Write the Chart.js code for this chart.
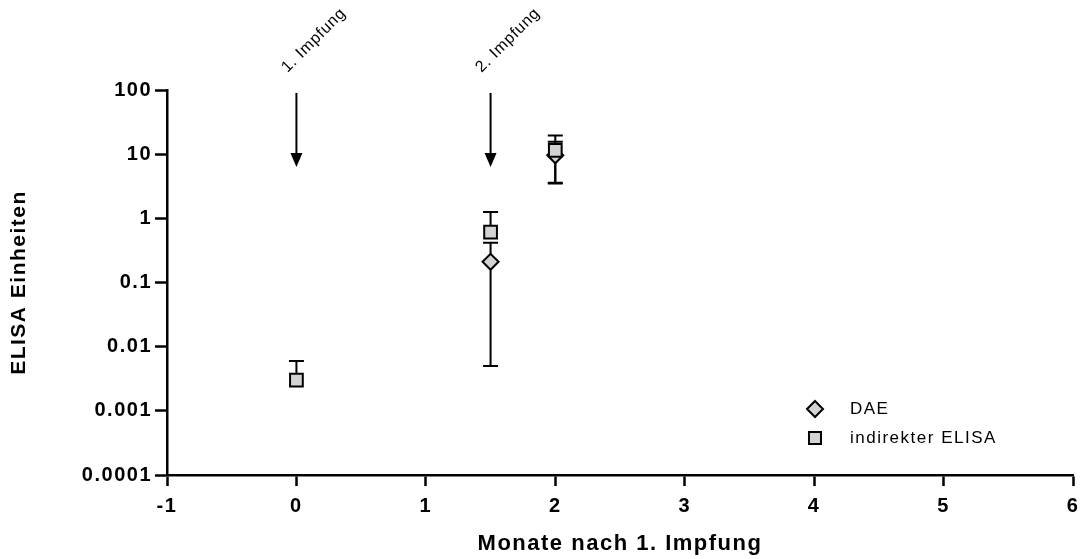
<!DOCTYPE html>
<html><head><meta charset="utf-8">
<script src="https://cdn.jsdelivr.net/npm/chart.js@4.4.0/dist/chart.umd.min.js"></script>
<style>html,body{margin:0;padding:0;background:#fff;overflow:hidden;} #wrap{width:1084px;height:559px;position:relative;}</style>
</head><body><div id="wrap"><canvas id="c" width="1084" height="559"></canvas></div>
<script>
// ---- data ----
const months = [0, 1.5, 2];
const daeMean = [null, 0.21, 9.6];
const daeSd = [null, 0.205, 6.0];
const elisaMean = [0.003, 0.61, 11.5];
const elisaSd = [0.003, 0.65, 8.0];
const seriesNames = ['DAE', 'indirekter ELISA'];
const yTickValues = [0.0001, 0.001, 0.01, 0.1, 1, 10, 100];
const yTickLabels = ['0.0001', '0.001', '0.01', '0.1', '1', '10', '100'];
const xTickValues = [-1, 0, 1, 2, 3, 4, 5, 6];
const vaccinationMonths = [0, 1.5];
const vaccinationLabels = ['1. Impfung', '2. Impfung'];
const arrowFrom = 90, arrowTo = 6.3;

const FONT = '"Liberation Sans", Arial, sans-serif';
const GRAY = '#d3d3d3';

function toPoints(means) {
  return months.map((m, i) => ({ x: m, y: means[i] }));
}

const spacingPlugin = {
  id: 'spacing',
  beforeUpdate(chart) { chart.ctx.letterSpacing = '1.5px'; },
  beforeDraw(chart) { chart.ctx.letterSpacing = '1.5px'; }
};

const errorBarPlugin = {
  id: 'errorBars',
  beforeDatasetsDraw(chart) {
    const ctx = chart.ctx;
    const xs = chart.scales.x, ys = chart.scales.y;
    const sets = [[daeMean, daeSd], [elisaMean, elisaSd]];
    ctx.save();
    ctx.strokeStyle = '#000';
    ctx.lineWidth = 2;
    sets.forEach(([mean, sd]) => {
      months.forEach((m, i) => {
        if (mean[i] == null) return;
        const x = xs.getPixelForValue(m);
        const y0 = ys.getPixelForValue(mean[i]);
        const ends = [mean[i] + sd[i]];
        if (mean[i] - sd[i] > 0) ends.push(mean[i] - sd[i]);
        ends.forEach(v => {
          const y = ys.getPixelForValue(v);
          ctx.beginPath();
          ctx.moveTo(x, y0); ctx.lineTo(x, y);
          ctx.moveTo(x - 7.5, y); ctx.lineTo(x + 7.5, y);
          ctx.stroke();
        });
      });
    });
    ctx.restore();
  }
};

function drawMarker(ctx, style, x, y, r) {
  ctx.beginPath();
  if (style === 'rectRot') {
    ctx.moveTo(x, y - r); ctx.lineTo(x + r, y); ctx.lineTo(x, y + r); ctx.lineTo(x - r, y); ctx.closePath();
  } else {
    const s = Math.SQRT1_2 * r;
    ctx.rect(x - s, y - s, 2 * s, 2 * s);
  }
  ctx.fill(); ctx.stroke();
}

const annotPlugin = {
  id: 'annot',
  afterDraw(chart) {
    const ctx = chart.ctx;
    const xs = chart.scales.x, ys = chart.scales.y;
    ctx.save();
    ctx.fillStyle = '#000'; ctx.strokeStyle = '#000'; ctx.lineWidth = 2;
    vaccinationMonths.forEach((m, i) => {
      const x = xs.getPixelForValue(m);
      const yA = ys.getPixelForValue(arrowFrom);
      const yB = ys.getPixelForValue(arrowTo);
      ctx.beginPath(); ctx.moveTo(x, yA); ctx.lineTo(x, yB - 12); ctx.stroke();
      ctx.beginPath(); ctx.moveTo(x - 6, yB - 14); ctx.lineTo(x + 6, yB - 14); ctx.lineTo(x, yB); ctx.closePath(); ctx.fill();
      ctx.save();
      ctx.translate(x - 9, chart.chartArea.top - 17);
      ctx.rotate(-Math.PI / 4);
      ctx.font = '16px ' + FONT;
      ctx.letterSpacing = '0.8px';
      ctx.textAlign = 'left'; ctx.textBaseline = 'alphabetic';
      ctx.fillText(vaccinationLabels[i], 0, 0);
      ctx.restore();
    });
    // legend
    const order = [0, 1];
    order.forEach((di, row) => {
      const ds = chart.data.datasets[di];
      const y = 409 + row * 29;
      ctx.fillStyle = ds.pointBackgroundColor;
      ctx.strokeStyle = ds.pointBorderColor;
      ctx.lineWidth = 2;
      drawMarker(ctx, ds.pointStyle, 815, y, ds.pointStyle === 'rectRot' ? 8 : 8.5);
      ctx.fillStyle = '#000';
      ctx.font = '17px ' + FONT;
      ctx.letterSpacing = '1.5px';
      ctx.textAlign = 'left'; ctx.textBaseline = 'middle';
      ctx.fillText(ds.label, 850, y);
    });
    ctx.restore();
  }
};

new Chart(document.getElementById('c'), {
  type: 'scatter',
  data: {
    datasets: [
      { label: seriesNames[0], data: toPoints(daeMean), pointStyle: 'rectRot', pointRadius: 8,
        pointHoverRadius: 8, pointBackgroundColor: GRAY, pointBorderColor: '#000', pointBorderWidth: 2, order: 1 },
      { label: seriesNames[1], data: toPoints(elisaMean), pointStyle: 'rect', pointRadius: 9,
        pointHoverRadius: 9, pointBackgroundColor: GRAY, pointBorderColor: '#000', pointBorderWidth: 2, order: 0 }
    ]
  },
  options: {
    responsive: false,
    animation: false,
    devicePixelRatio: 1,
    layout: { padding: { left: 0, right: 11, top: 90, bottom: 0 } },
    plugins: { legend: { display: false }, tooltip: { enabled: false } },
    scales: {
      x: {
        type: 'linear', min: -1, max: 6,
        afterBuildTicks(scale) { scale.ticks = xTickValues.map(v => ({ value: v })); },
        afterFit(scale) { scale.height = 84; scale.paddingRight = 0; scale.paddingLeft = 0; },
        grid: { drawOnChartArea: false, drawTicks: true, tickLength: 11, tickWidth: 2.5, tickColor: '#000' },
        border: { display: true, width: 2.5, color: '#000' },
        ticks: { color: '#000', font: { family: FONT, size: 20, weight: 'bold' }, padding: 8, maxRotation: 0,
                 callback: v => String(v) },
        title: { display: true, text: 'Monate nach 1. Impfung', color: '#000',
                 font: { family: FONT, size: 22, weight: 'bold' }, padding: { top: 10, bottom: 2 } }
      },
      y: {
        type: 'logarithmic', min: 0.0001, max: 100,
        afterBuildTicks(scale) { scale.ticks = yTickValues.map(v => ({ value: v })); },
        afterFit(scale) { scale.width = 167; scale.paddingTop = 0; scale.paddingBottom = 0; },
        grid: { drawOnChartArea: false, drawTicks: true, tickLength: 12, tickWidth: 2.5, tickColor: '#000' },
        border: { display: true, width: 2.5, color: '#000' },
        ticks: { color: '#000', font: { family: FONT, size: 20, weight: 'bold' }, padding: 3,
                 callback: (v) => { const k = yTickValues.indexOf(v); return k >= 0 ? yTickLabels[k] : ''; } },
        title: { display: true, text: 'ELISA Einheiten', color: '#000',
                 font: { family: FONT, size: 21, weight: 'bold' }, padding: { top: 7, bottom: 0 } }
      }
    }
  },
  plugins: [spacingPlugin, errorBarPlugin, annotPlugin]
});
</script>
</body></html>
